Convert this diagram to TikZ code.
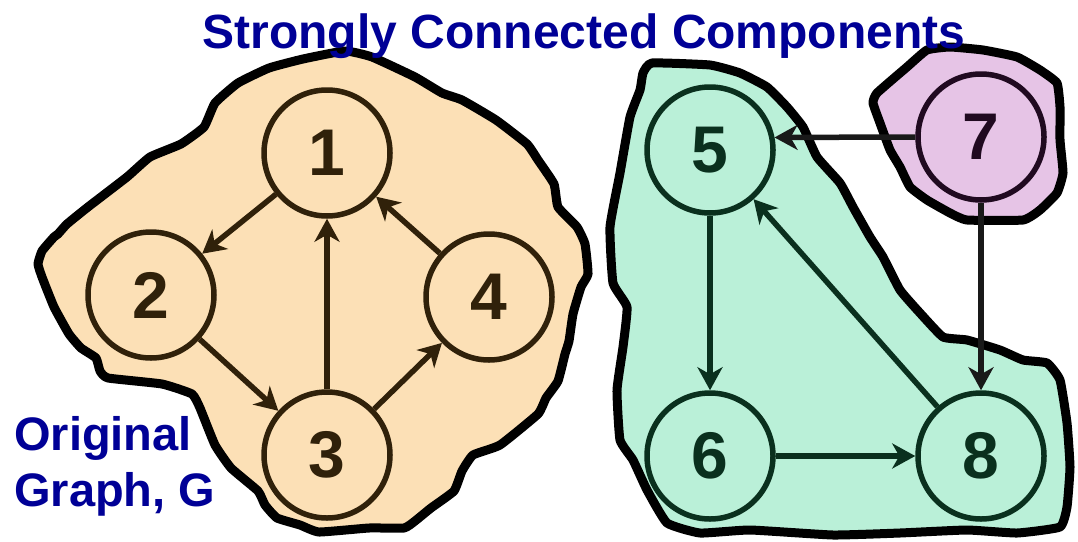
\documentclass[tikz,border=0pt]{standalone}
\usepackage{fontspec}
\setmainfont{Liberation Sans}
\usetikzlibrary{arrows.meta}
\definecolor{orangefill}{RGB}{252,224,182}
\definecolor{greenfill}{RGB}{186,240,216}
\definecolor{purplefill}{RGB}{230,196,230}
\definecolor{brn}{RGB}{48,33,10}
\definecolor{grn}{RGB}{10,48,30}
\definecolor{prp}{RGB}{32,10,32}
\definecolor{titleblue}{RGB}{0,0,150}
\begin{document}
\begin{tikzpicture}[x=1pt,y=-1pt,
  blob/.style={line width=9pt, line join=round, draw=black},
  vtx/.style={circle, minimum size=126pt, inner sep=0pt, line width=5.5pt,
    font=\fontsize{66}{66}\selectfont\bfseries},
  lvtx/.style={vtx, draw=brn, text=brn},
  rvtx/.style={vtx, draw=grn, text=grn},
  pvtx/.style={vtx, draw=prp, text=prp},
  arr/.style={line width=5.5pt, -{Stealth[length=23pt,width=25pt,inset=7pt]}},
  larr/.style={arr, draw=brn},
  rarr/.style={arr, draw=grn},
  parr/.style={arr, draw=black!90},
  bluetext/.style={inner sep=0pt, text=titleblue, font=\fontsize{47}{47}\selectfont\bfseries}
]
\useasboundingbox (0,0) rectangle (1078,541);

% orange blob
\filldraw[blob, fill=orangefill] plot[smooth cycle, tension=0.25] coordinates {
 (58,234) (67,224) (88,207) (127,177) (150,157) (181,144) (204,127) (215,103)
 (238,83) (269,68) (303,59) (345,51) (372,57) (415,77) (442,93) (462,100)
 (496,120) (527,144) (538,160) (554,184) (558,207) (577,227) (585,244)
 (588,274) (581,287) (573,314) (569,341) (565,354) (558,381) (546,398)
 (538,414) (500,445) (473,455) (462,471) (454,491) (431,508) (415,521)
 (404,528) (369,528) (319,532) (300,525) (277,518) (265,505) (258,491)
 (231,468) (215,445) (200,408) (192,394) (162,384) (108,378) (100,371)
 (96,358) (81,348) (69,334) (54,307) (42,277) (38,264) (42,251) (54,237)};

% green blob
\filldraw[blob, fill=greenfill] plot[smooth cycle, tension=0.25] coordinates {
 (652,63) (710,65) (740,73) (767,87) (787,107) (803,127) (817,157) (840,183)
 (853,207) (870,237) (883,257) (900,290) (920,313) (943,337) (967,340)
 (1000,350) (1023,360) (1047,363) (1060,380) (1067,423) (1070,467)
 (1067,507) (1060,527) (1017,533) (967,530) (900,533) (833,535) (750,530)
 (700,533) (667,523) (647,490) (633,460) (620,440) (617,390) (623,347)
 (627,307) (613,283) (610,227) (620,173) (630,117) (640,90) (643,73)};

% purple blob
\filldraw[blob, fill=purplefill] plot[smooth cycle, tension=0.25] coordinates {
 (877,93) (907,67) (927,50) (950,47) (983,50) (1017,57) (1040,70) (1057,83)
 (1060,107) (1060,140) (1063,173) (1057,193) (1040,210) (1023,220)
 (967,220) (950,213) (927,200) (910,187) (900,167) (890,150) (880,123)
 (873,103)};

% vertices
\node[lvtx] (n1) at (327,153) {1};
\node[lvtx] (n2) at (151,295) {2};
\node[lvtx] (n3) at (327,455) {3};
\node[lvtx] (n4) at (489,297) {4};
\node[rvtx] (n5) at (710,150) {5};
\node[rvtx] (n6) at (710,456) {6};
\node[pvtx] (n7) at (981,137) {7};
\node[rvtx] (n8) at (981,456) {8};

% edges
\draw[larr] (n1) -- (n2);
\draw[larr] (n2) -- (n3);
\draw[larr] (n3) -- (n1);
\draw[larr] (n3) -- (n4);
\draw[larr] (n4) -- (n1);
\draw[rarr] (n5) -- (n6);
\draw[rarr] (n6) -- (n8);
\draw[rarr] (n8) -- (n5);
\draw[parr] (n7.west) -- (n5.11);
\draw[parr] (n7) -- (n8);

% texts
\node[bluetext, anchor=base, font=\fontsize{48}{48}\selectfont\bfseries] (title) at (584,48) {Strongly Connected Components};
\node[bluetext, anchor=base west] (lab1) at (14,450) {Original};
\node[bluetext, anchor=base west] (lab2) at (14,506) {Graph, G};
\end{tikzpicture}
\end{document}
